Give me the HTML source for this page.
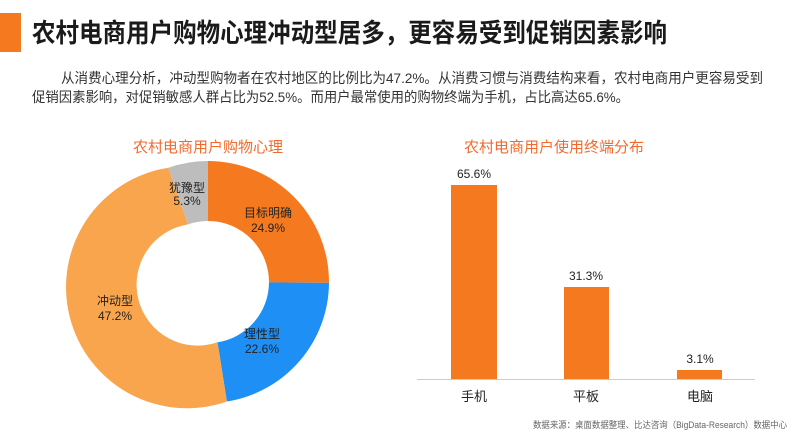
<!DOCTYPE html>
<html><head><meta charset="utf-8"><style>
html,body{margin:0;padding:0;background:#fff;}
svg{display:block;font-family:"Liberation Sans","Noto Sans CJK SC",sans-serif;}
</style></head><body>
<svg width="800" height="433" viewBox="0 0 800 433" xmlns="http://www.w3.org/2000/svg">
<rect x="0" y="13" width="21" height="39" fill="#f57a1f"/>
<text x="32" y="42" font-size="26" font-weight="bold" fill="#1a1a1a" textLength="635" lengthAdjust="spacingAndGlyphs">农村电商用户购物心理冲动型居多，更容易受到促销因素影响</text>
<text x="61" y="83" font-size="14" fill="#333" textLength="702" lengthAdjust="spacingAndGlyphs">从消费心理分析，冲动型购物者在农村地区的比例比为47.2%。从消费习惯与消费结构来看，农村电商用户更容易受到</text>
<text x="32" y="102" font-size="14" fill="#333" textLength="597" lengthAdjust="spacingAndGlyphs">促销因素影响，对促销敏感人群占比为52.5%。而用户最常使用的购物终端为手机，占比高达65.6%。</text>

<text x="208" y="152" font-size="15" fill="#f26a2e" text-anchor="middle">农村电商用户购物心理</text>
<g transform="translate(208,282)">
<path d="M0,-121 A121,121 0 0 1 121,0.84 L61,0.43 A61,61 0 0 0 0,-61Z" fill="#f57a1f"/>
<path d="M121,0.84 A121,121 0 0 1 18.9,119.5 L9.5,60.3 A61,61 0 0 0 61,0.43Z" fill="#1e8ff5"/>
<path d="M18.9,119.5 A121,121 0 1 1 -39.6,-114.3 L-20,-57.6 A61,61 0 1 0 9.5,60.3Z" fill="#f9a54d"/>
<path d="M-39.6,-114.3 A121,121 0 0 1 0,-121 L0,-61 A61,61 0 0 0 -20,-57.6Z" fill="#bdbdbd"/>
</g>
<g font-size="12" fill="#222" text-anchor="middle">
<text x="187" y="192">犹豫型</text><text x="187" y="205">5.3%</text>
<text x="268" y="217">目标明确</text><text x="268" y="232">24.9%</text>
<text x="262" y="338">理性型</text><text x="262" y="353">22.6%</text>
<text x="115" y="305">冲动型</text><text x="115" y="320">47.2%</text>
</g>

<text x="554" y="152" font-size="15" fill="#f26a2e" text-anchor="middle">农村电商用户使用终端分布</text>
<rect x="451" y="185" width="46" height="194" fill="#f57a1f"/>
<rect x="564" y="287" width="45" height="92" fill="#f57a1f"/>
<rect x="677" y="370" width="45" height="9" fill="#f57a1f"/>
<line x1="417" y1="379.5" x2="755" y2="379.5" stroke="#ccc" stroke-width="1"/>
<g font-size="12" fill="#222" text-anchor="middle">
<text x="474" y="178">65.6%</text>
<text x="586" y="280">31.3%</text>
<text x="700" y="363">3.1%</text>
</g>
<g font-size="13" fill="#222" text-anchor="middle">
<text x="474" y="401">手机</text>
<text x="586" y="401">平板</text>
<text x="700" y="401">电脑</text>
</g>
<text x="533" y="428" font-size="9" fill="#666" textLength="254" lengthAdjust="spacingAndGlyphs">数据来源：桌面数据整理、比达咨询（BigData-Research）数据中心</text>
</svg>
</body></html>
